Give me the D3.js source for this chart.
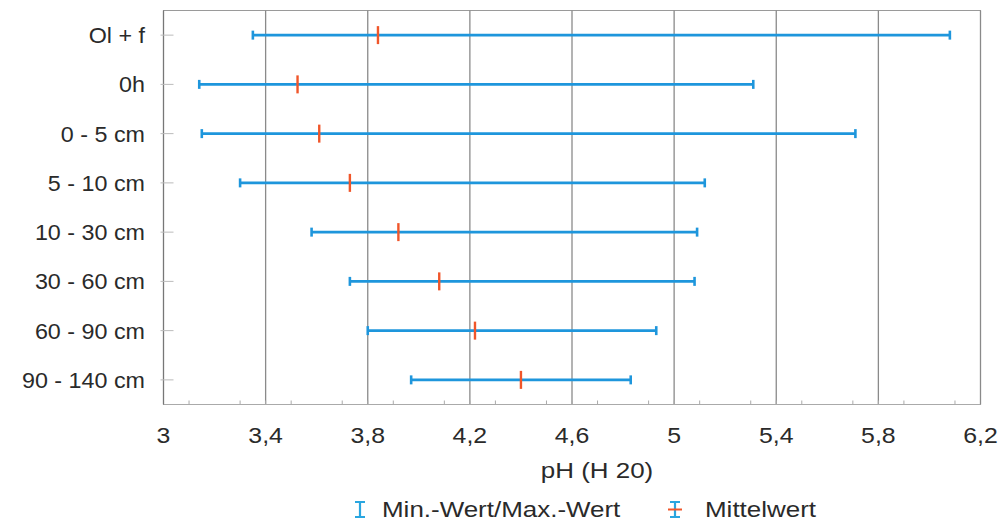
<!DOCTYPE html>
<html><head><meta charset="utf-8">
<script src="https://cdn.jsdelivr.net/npm/d3@7/dist/d3.min.js"></script>
<style>
html,body{margin:0;padding:0;background:#fff;}
svg{display:block;}
text{font-family:"Liberation Sans",Arial,Helvetica,sans-serif;fill:#2a2a2a;}
</style></head>
<body>
<svg id="chart" width="1003" height="525"></svg>
<script>
// ---- data ----
const categories = ["Ol + f","0h","0 - 5 cm","5 - 10 cm","10 - 30 cm","30 - 60 cm","60 - 90 cm","90 - 140 cm"];
const minValues  = [3.35, 3.14, 3.15, 3.30, 3.58, 3.73, 3.80, 3.97];
const meanValues = [3.84, 3.525, 3.61, 3.73, 3.92, 4.08, 4.22, 4.40];
const maxValues  = [6.08, 5.31, 5.71, 5.12, 5.09, 5.08, 4.93, 4.83];
const xTicks = [3, 3.4, 3.8, 4.2, 4.6, 5, 5.4, 5.8, 6.2];
const xTickLabels = ["3","3,4","3,8","4,2","4,6","5","5,4","5,8","6,2"];
const xTitle = "pH (H 20)";
const legendLabels = ["Min.-Wert/Max.-Wert","Mittelwert"];

// ---- layout ----
const svg = d3.select("#chart");
const L = 163.5, R = 980.5, T = 10.5, B = 404.5;
const blue = "#1e96dc", red = "#f0562a", grid = "#8a8a8a";

const x = d3.scaleLinear().domain([3, 6.2]).range([L, R]);
const y = d3.scaleBand().domain(categories).range([T, B]).padding(0);

function sText(sel, sx){
  sel.each(function(){
    const t = d3.select(this);
    const tx = +t.attr("data-x"), ty = +t.attr("data-y");
    t.attr("transform", `translate(${tx},${ty}) scale(${sx},1)`);
  });
}

// frame
svg.append("rect").attr("x", L).attr("y", T).attr("width", R-L).attr("height", B-T)
  .attr("fill", "#fff").attr("stroke", "#9a9a9a").attr("stroke-width", 1);

// gridlines
svg.append("g").selectAll("line").data(xTicks.slice(1)).join("line")
  .attr("x1", d => x(d)).attr("x2", d => x(d)).attr("y1", T).attr("y2", B)
  .attr("stroke", grid).attr("stroke-width", 1.3);

// bottom axis with minor ticks
const minor = d3.range(30, 63).map(v => v/10).filter(v => Math.abs(v*10 % 4) > 0.01 && v < 6.2);
const xAxis = svg.append("g").attr("transform", `translate(0,${B})`);
xAxis.append("line").attr("x1", L).attr("x2", R).attr("stroke", "#aaa").attr("stroke-width", 1);
xAxis.selectAll("line.minor").data(minor).join("line").attr("class","minor")
  .attr("x1", d => x(d)).attr("x2", d => x(d)).attr("y1", 0).attr("y2", -4)
  .attr("stroke", "#aaa").attr("stroke-width", 1);
xAxis.selectAll("text").data(xTicks).join("text")
  .attr("data-x", d => x(d)).attr("data-y", 38)
  .attr("text-anchor", "middle").attr("font-size", 22)
  .text((d,i) => xTickLabels[i]).call(sText, 1.13);

// left axis
svg.append("line").attr("x1", L).attr("x2", L).attr("y1", T).attr("y2", B)
  .attr("stroke", "#777").attr("stroke-width", 1.3);
const yAxis = svg.append("g");
yAxis.selectAll("line").data(categories).join("line")
  .attr("x1", L-3).attr("x2", L+10)
  .attr("y1", d => y(d)+y.bandwidth()/2).attr("y2", d => y(d)+y.bandwidth()/2)
  .attr("stroke", "#bbb").attr("stroke-width", 1);
yAxis.selectAll("text").data(categories).join("text")
  .attr("data-x", 145).attr("data-y", d => y(d)+y.bandwidth()/2+8)
  .attr("text-anchor", "end").attr("font-size", 22)
  .text(d => d).call(sText, 1.06);

// range bars
const rows = categories.map((c,i) => ({c, mn:minValues[i], mean:meanValues[i], mx:maxValues[i]}));
const bars = svg.append("g");
bars.selectAll("line.rng").data(rows).join("line").attr("class","rng")
  .attr("x1", d => x(d.mn)).attr("x2", d => x(d.mx))
  .attr("y1", d => y(d.c)+y.bandwidth()/2).attr("y2", d => y(d.c)+y.bandwidth()/2)
  .attr("stroke", blue).attr("stroke-width", 2.6);
["mn","mx"].forEach(k => {
  bars.selectAll("line.cap"+k).data(rows).join("line").attr("class","cap"+k)
    .attr("x1", d => x(d[k])).attr("x2", d => x(d[k]))
    .attr("y1", d => y(d.c)+y.bandwidth()/2-4.5).attr("y2", d => y(d.c)+y.bandwidth()/2+4.5)
    .attr("stroke", blue).attr("stroke-width", 2.6);
});
bars.selectAll("line.mean").data(rows).join("line").attr("class","mean")
  .attr("x1", d => x(d.mean)).attr("x2", d => x(d.mean))
  .attr("y1", d => y(d.c)+y.bandwidth()/2-9).attr("y2", d => y(d.c)+y.bandwidth()/2+9)
  .attr("stroke", red).attr("stroke-width", 2.4);

// axis title
svg.append("text").attr("data-x", 597).attr("data-y", 478)
  .attr("text-anchor", "middle").attr("font-size", 22).text(xTitle).call(sText, 1.18);

// legend
const lg = svg.append("g");
function ibeam(cx, col){
  lg.append("path").attr("d", `M${cx-5},502 H${cx+5} M${cx},502 V517 M${cx-5},517 H${cx+5}`)
    .attr("stroke", col).attr("stroke-width", 2.2).attr("fill", "none");
}
ibeam(360, "#2aa6e0");
ibeam(675, "#2aa6e0");
lg.append("line").attr("x1", 668).attr("x2", 682).attr("y1", 509.5).attr("y2", 509.5)
  .attr("stroke", red).attr("stroke-width", 2);
lg.append("text").attr("data-x", 382).attr("data-y", 517).attr("font-size", 22)
  .text(legendLabels[0]).call(sText, 1.18);
lg.append("text").attr("data-x", 705).attr("data-y", 517).attr("font-size", 22)
  .text(legendLabels[1]).call(sText, 1.18);
</script>
</body></html>
